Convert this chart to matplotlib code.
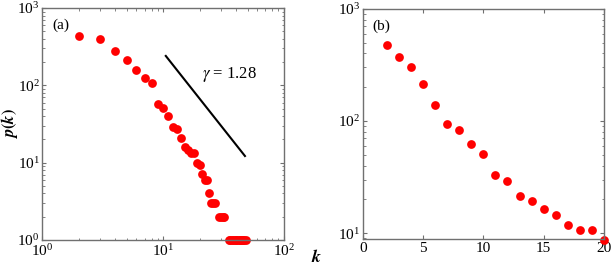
import matplotlib
matplotlib.use('Agg')
import matplotlib.pyplot as plt
import numpy as np

plt.rcParams['font.family'] = 'serif'
plt.rcParams['font.serif'] = ['Liberation Serif', 'Times New Roman', 'DejaVu Serif']
plt.rcParams['mathtext.fontset'] = 'stix'

# panel (a): degree distribution, log-log
k_a = [2, 3, 4, 5, 6, 7, 8, 9, 10, 11, 12, 13, 14, 15, 16, 17, 18, 19, 20,
       21, 22, 23, 24, 25, 26, 27, 29, 30, 31, 32,
       35, 36, 37, 38, 39, 40, 41, 42, 43, 44, 45, 46, 47, 48]
p_a = [430, 400, 280, 215, 160, 125, 108, 57, 51, 40, 29, 27, 21, 16, 14.5, 13.5, 13.5, 10, 9.3,
       7.2, 6, 6, 4, 3, 3, 3, 2, 2, 2, 2,
       1, 1, 1, 1, 1, 1, 1, 1, 1, 1, 1, 1, 1, 1]

# reference slope line and label
line_k = [10.5, 47.5]
line_p = [240, 12.2]
gamma_label = r'$\gamma$ = 1.28'

# panel (b): semi-log
k_b = [2, 3, 4, 5, 6, 7, 8, 9, 10, 11, 12, 13, 14, 15, 16, 17, 18, 19, 20]
p_b = [475, 375, 305, 215, 138, 95, 83, 62, 51, 33, 29, 21.5, 19.5, 16.6, 14.5, 11.8, 10.8, 10.8, 8.8]

fig = plt.figure(figsize=(6.13, 2.67), dpi=100)
ax = fig.add_axes([0.0693, 0.101, 0.394, 0.869])
bx = fig.add_axes([0.5917, 0.105, 0.3936, 0.862])

frame = '#707070'
for a in (ax, bx):
    for s in a.spines.values():
        s.set_color(frame)
        s.set_linewidth(1.0)
    a.tick_params(which='both', direction='in', top=True, right=True, color=frame,
                  labelsize=11, pad=2)
    a.tick_params(which='major', length=3)
    a.tick_params(which='minor', length=1.8)

ax.plot(k_a, p_a, 'o', color='#ff0000', markersize=6.3, markeredgewidth=0, clip_on=False)
ax.plot(line_k, line_p, color='k', linewidth=1.5)
ax.set_xscale('log')
ax.set_yscale('log')
ax.set_xlim(1, 100)
ax.set_ylim(1, 1000)
ax.text(21, 140, gamma_label, fontsize=12, va='center', ha='left')
ax.text(0.04, 0.955, '(a)', transform=ax.transAxes, fontsize=11, va='top', ha='left')
ax.set_ylabel(r'$\boldsymbol{p(k)}$', fontsize=12)
ax.yaxis.set_label_coords(-0.095, 0.5)

bx.plot(k_b, p_b, 'o', color='#ff0000', markersize=6.3, markeredgewidth=0, clip_on=False)
bx.set_yscale('log')
bx.set_xlim(0, 20)
bx.set_ylim(8.9, 1000)
bx.set_xticks([0, 5, 10, 15, 20])
bx.text(0.04, 0.955, '(b)', transform=bx.transAxes, fontsize=11, va='top', ha='left')

fig.text(0.516, 0.035, r'$\boldsymbol{k}$', fontsize=13, ha='center', va='center')

plt.savefig('out.png', dpi=100)
